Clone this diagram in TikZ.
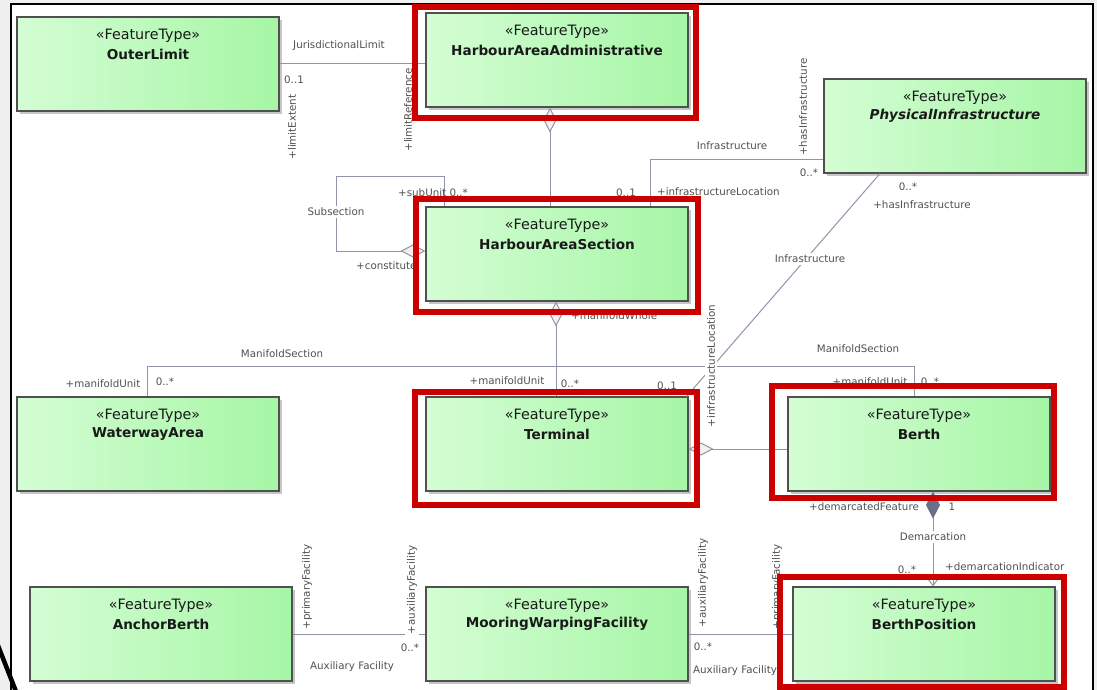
\documentclass[tikz,border=0pt]{standalone}
\usepackage{fontspec}
\setmainfont{DejaVu Sans}
\usetikzlibrary{arrows.meta,calc}
\definecolor{boxL}{HTML}{D4FDD4}
\definecolor{boxR}{HTML}{A6F6A6}
\definecolor{boxD}{HTML}{505050}
\definecolor{lineC}{HTML}{8F94A8}
\definecolor{lblC}{HTML}{505050}
\definecolor{diaF}{HTML}{FCEDED}
\definecolor{compF}{HTML}{6B7089}
\definecolor{redC}{HTML}{CC0000}
\definecolor{bgC}{HTML}{F0F0F0}
\definecolor{shadowC}{HTML}{C6C6C6}
\tikzset{
  umlbox/.style={draw=boxD, line width=1.1pt, left color=boxL, right color=boxR,
    minimum width=262pt, minimum height=94pt, inner sep=0pt},
  stereo/.style={font=\fontsize{14.3}{16}\selectfont, text=black!90, inner sep=0pt},
  tname/.style={font=\fontsize{13.6}{16}\selectfont\bfseries, text=black!90, inner sep=0pt},
  assoc/.style={draw=lineC, line width=1pt},
  aggstart/.style={{Diamond[length=25pt,width=13pt,fill=diaF]}-},
  compstart/.style={{Diamond[length=27pt,width=14pt,fill=compF,color=compF]}-{Straight Barb[length=8pt,width=12pt]}},
  lbl/.style={font=\fontsize{10.3}{12}\selectfont, text=lblC, inner sep=1pt},
  lblw/.style={lbl, fill=white, inner sep=2pt},
  redframe/.style={draw=redC, line width=6pt},
}
\newcommand{\umlbox}[5][]{%
  \fill[shadowC] (#3-128,#4+3) rectangle (#3+134,#4+97);
  \node[umlbox] (#2) at (#3,#4+47) {};
  \node[stereo] (#2-st) at (#3,#4+19) {«FeatureType»};
  \node[tname,#1] (#2-nm) at (#3,#4+37) {#5};
}
\begin{document}
\begin{tikzpicture}[x=1pt,y=-1pt]
\useasboundingbox (0,0) rectangle (1097,690);
\fill[bgC] (0,0) rectangle (1097,690);
\fill[white] (11,4) rectangle (1093,692);
\draw[black, line width=1.8pt] (11,700) -- (11,4) -- (1093,4) -- (1093,700);
\draw[black, line width=4.5pt] (-3,643) -- (17,694);

% ---------- boxes ----------
\umlbox{ol}{148}{17}{OuterLimit}
\umlbox{haa}{557}{13}{HarbourAreaAdministrative}
\umlbox[font=\fontsize{13.6}{16}\selectfont\bfseries\itshape]{pi}{955}{79}{PhysicalInfrastructure}
\umlbox{has}{557}{207}{HarbourAreaSection}
\umlbox{ww}{148}{397}{WaterwayArea}
\umlbox{term}{557}{397}{Terminal}
\umlbox{berth}{919}{397}{Berth}
\umlbox{ab}{161}{587}{AnchorBerth}
\umlbox{mwf}{557}{587}{MooringWarpingFacility}
\umlbox{bp}{924}{587}{BerthPosition}

% ---------- connectors ----------
\coordinate (sub) at (336,176);
\coordinate (ms) at (556,366);
\draw[assoc] (ol.east) -- (ol.east -| haa.west);
\draw[assoc, aggstart] ([xshift=-7pt]haa.south) -- ([xshift=-7pt]has.north);
\draw[assoc, aggstart] ([yshift=3pt]has.west) -| (sub) -| ([xshift=-113pt]has.north);
\draw[assoc] ([xshift=93pt]has.north) |- ([yshift=-33pt]pi.west);
\draw[assoc] ([xshift=-75pt]pi.south) -- ([xshift=-2pt]term.north east);
\draw[assoc, aggstart] ([xshift=-1pt]has.south) -- ([xshift=-1pt]term.north);
\draw[assoc] (ms) -| ([xshift=-1pt]ww.north);
\draw[assoc] (ms) -| ([xshift=-5pt]berth.north);
\draw[assoc, aggstart] ([yshift=-5pt]term.east) -- ([yshift=-5pt]berth.west);
\draw[assoc, compstart] ([xshift=14pt]berth.south) -- ([xshift=14pt]berth.south |- bp.north);
\draw[assoc] (ab.east) -- (mwf.west);
\draw[assoc] (mwf.east) -- (bp.west);

% ---------- labels ----------
\node[lbl] (l1) at (339,46) {JurisdictionalLimit};
\node[lbl] (l2) at (294,80) {0..1};
\node[lbl, rotate=90] (l3) at (292,127) {+limitExtent};
\node[lbl, rotate=90] (l4) at (408,110) {+limitReference};
\node[lblw] (l5) at (336,212) {Subsection};
\node[lbl, anchor=west] (l6) at (397,193) {+subUnit 0..*};
\node[lbl, anchor=west] (l7) at (355,266) {+constitute};
\node[lbl] (l8) at (626,193) {0..1};
\node[lbl, anchor=west] (l9) at (656,192) {+infrastructureLocation};
\node[lbl] (l10) at (732,146) {Infrastructure};
\node[lbl, rotate=90] (l11) at (803,107) {+hasInfrastructure};
\node[lbl] (l12) at (809,173) {0..*};
\node[lbl] (l13) at (908,187) {0..*};
\node[lbl] (l14) at (922,205) {+hasInfrastructure};
\node[lblw] (l15) at (810,259) {Infrastructure};
\node[lblw, rotate=90] (l16) at (711,366) {+infrastructureLocation};
\node[lbl] (l17) at (667,386) {0..1};
\node[lbl, anchor=west] (l18) at (570,316) {+manifoldWhole};
\node[lbl] (l19) at (282,354) {ManifoldSection};
\node[lbl] (l20) at (103,384) {+manifoldUnit};
\node[lbl] (l21) at (165,382) {0..*};
\node[lbl] (l22) at (507,381) {+manifoldUnit};
\node[lbl] (l23) at (570,384) {0..*};
\node[lbl] (l24) at (858,349) {ManifoldSection};
\node[lbl] (l25) at (870,382) {+manifoldUnit};
\node[lbl] (l26) at (930,382) {0..*};
\node[lbl] (l27) at (864,507) {+demarcatedFeature};
\node[lbl] (l28) at (952,507) {1};
\node[lblw] (l29) at (933,537) {Demarcation};
\node[lbl] (l30) at (907,570) {0..*};
\node[lbl, anchor=west] (l31) at (944,567) {+demarcationIndicator};
\node[lbl, rotate=90] (l32) at (307,587) {+primaryFacility};
\node[lblw, rotate=90] (l33) at (412,590) {+auxiliaryFacility};
\node[lbl] (l34) at (410,648) {0..*};
\node[lbl] (l35) at (352,667) {Auxiliary Facility};
\node[lbl, rotate=90] (l36) at (703,583) {+auxiliaryFacility};
\node[lbl, rotate=90] (l37) at (777,587) {+primaryFacility};
\node[lbl] (l38) at (703,647) {0..*};
\node[lbl] (l39) at (735,671) {Auxiliary Facility};

% ---------- red highlight frames ----------
\draw[redframe] (415,7) rectangle (696,118);
\draw[redframe] (416,199) rectangle (698,312);
\draw[redframe] (415,392) rectangle (697,505);
\draw[redframe] (772,386) rectangle (1054,498);
\draw[redframe] (780,577) rectangle (1064,687);
\end{tikzpicture}
\end{document}
